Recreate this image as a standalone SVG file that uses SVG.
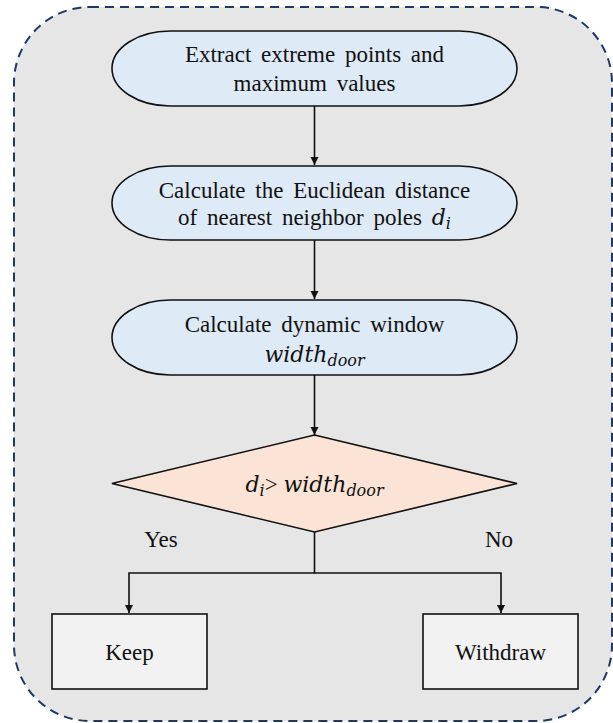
<svg xmlns="http://www.w3.org/2000/svg" width="613" height="723" viewBox="0 0 613 723">
  <style>
    .lbl { font-family: "Liberation Serif", "Times New Roman", serif; font-size: 23px; fill: #111; text-anchor: middle; word-spacing: 4px; }
    .math { font-family: "DejaVu Serif", "Liberation Serif", serif; font-style: italic; font-size: 22px; fill: #111; word-spacing: 0; }
    .sub { font-size: 16px; }
    .term { fill: #deeaf6; stroke: #111; stroke-width: 1.6; }
    .dec { fill: #fbe4d5; stroke: #111; stroke-width: 1.6; }
    .box { fill: #f2f2f2; stroke: #111; stroke-width: 1.6; }
    .edge { fill: none; stroke: #111; stroke-width: 1.6; }
  </style>
  <defs>
    <marker id="arrow" viewBox="0 0 10 10" refX="10" refY="5" markerWidth="8" markerHeight="9" markerUnits="userSpaceOnUse" orient="auto">
      <path d="M0,0 L10,5 L0,10 z" fill="#111"/>
    </marker>
  </defs>

  <!-- dashed frame -->
  <rect x="14" y="7" width="598" height="714" rx="76" ry="76" fill="#e6e6e6" stroke="#1f3864" stroke-width="2" stroke-dasharray="9 6"/>

  <g id="connectors">
    <line class="edge" x1="314.5" y1="106" x2="314.5" y2="165" marker-end="url(#arrow)"/>
    <line class="edge" x1="314.5" y1="240" x2="314.5" y2="299" marker-end="url(#arrow)"/>
    <line class="edge" x1="314.5" y1="375" x2="314.5" y2="435" marker-end="url(#arrow)"/>
    <polyline class="edge" points="314.5,532 314.5,573 129,573 129,613" marker-end="url(#arrow)"/>
    <polyline class="edge" points="314.5,573 501,573 501,613" marker-end="url(#arrow)"/>
    <text class="lbl" x="161" y="547">Yes</text>
    <text class="lbl" x="499" y="547">No</text>
  </g>

  <g id="extract">
    <rect class="term" x="112" y="31" width="405" height="75" rx="58" ry="37.5"/>
    <text class="lbl" x="314.5" y="62">Extract extreme points and</text>
    <text class="lbl" x="314.5" y="91">maximum values</text>
  </g>

  <g id="distance">
    <rect class="term" x="112" y="166" width="405" height="74" rx="58" ry="37"/>
    <text class="lbl" x="314.5" y="198">Calculate the Euclidean distance</text>
    <text class="lbl" x="314.5" y="225">of nearest neighbor poles <tspan class="math">d</tspan><tspan class="math sub" dy="4">i</tspan></text>
  </g>

  <g id="window">
    <rect class="term" x="112" y="300" width="405" height="75" rx="58" ry="37.5"/>
    <text class="lbl" x="314.5" y="332">Calculate dynamic window</text>
    <text class="lbl" x="314.5" y="362"><tspan class="math">width</tspan><tspan class="math sub" dy="4">door</tspan></text>
  </g>

  <g id="compare">
    <polygon class="dec" points="314.5,435 517,483.5 314.5,532 112,483.5"/>
    <text class="lbl" x="314.5" y="492" style="word-spacing:0"><tspan class="math">d</tspan><tspan class="math sub" dy="4">i</tspan><tspan dy="-4">&gt; </tspan><tspan class="math">width</tspan><tspan class="math sub" dy="4">door</tspan></text>
  </g>

  <g id="keep">
    <rect class="box" x="52" y="614" width="155" height="75"/>
    <text class="lbl" x="129.5" y="660">Keep</text>
  </g>

  <g id="withdraw">
    <rect class="box" x="423" y="614" width="155" height="75"/>
    <text class="lbl" x="500.5" y="660">Withdraw</text>
  </g>
</svg>
